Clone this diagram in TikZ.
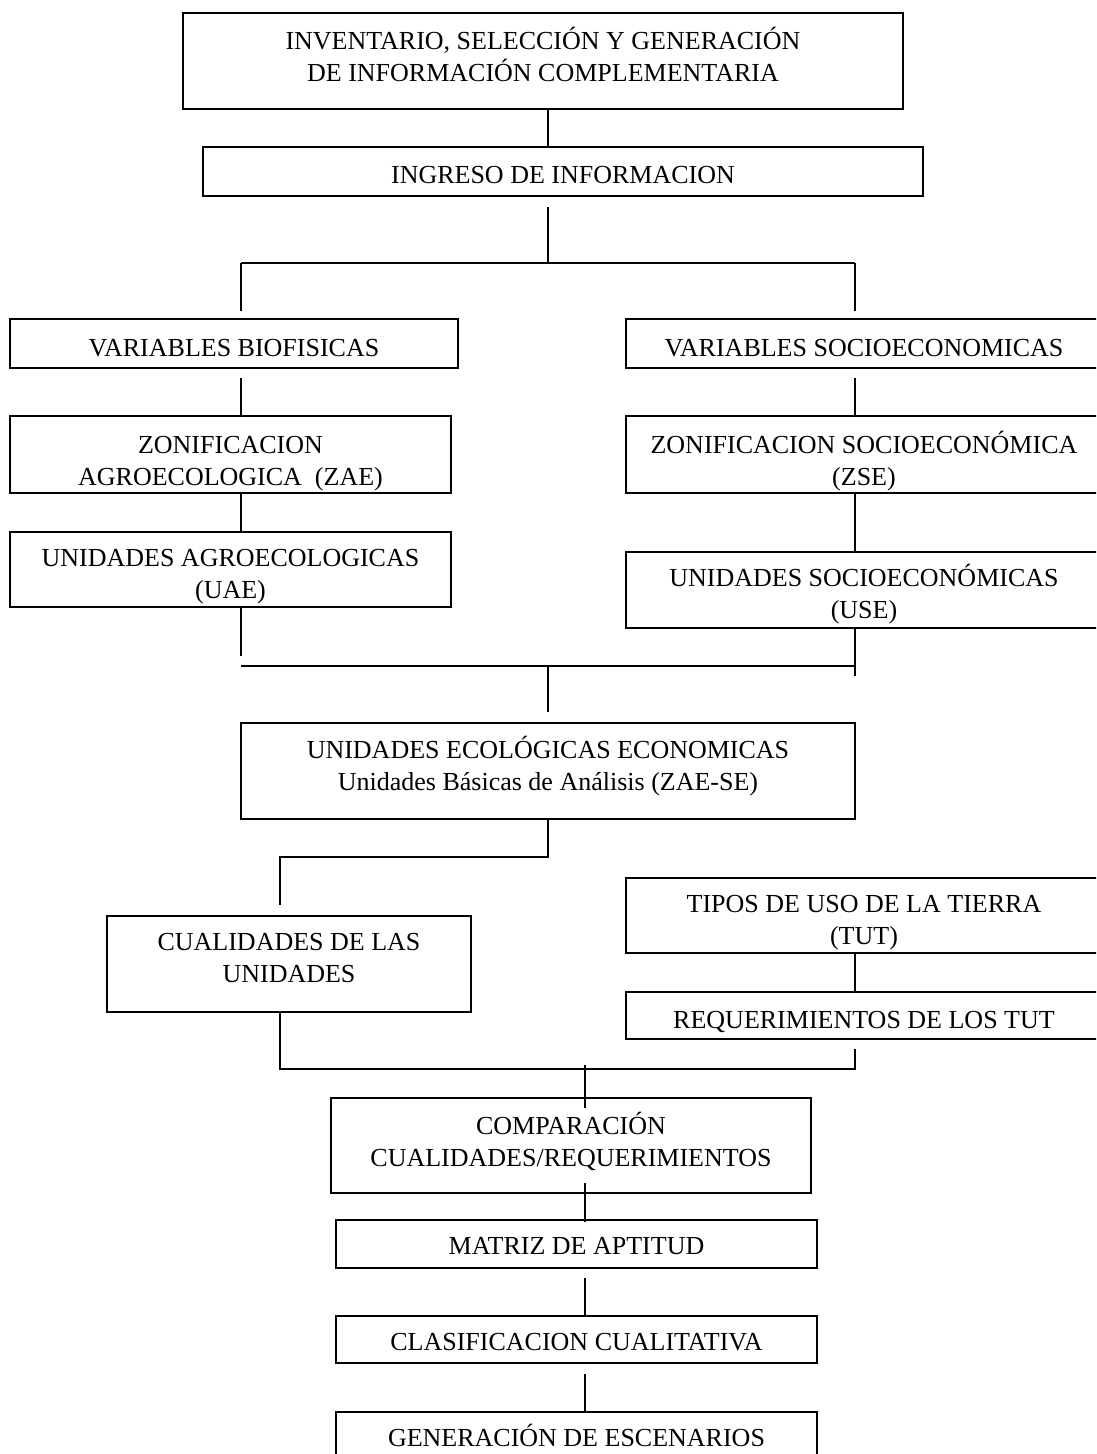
\documentclass[tikz,border=0pt]{standalone}
\usepackage{fontspec}
\setmainfont{Liberation Serif}
\usetikzlibrary{calc}

% struts that set where the text sits in its box
\newcommand{\strtop}[1]{\rule{0pt}{#1pt}}
\newcommand{\strbot}[1]{\rule[-#1pt]{0pt}{0pt}}

\begin{document}
\begin{tikzpicture}[
    x=1pt, y=-1pt,
    font=\fontsize{26}{32}\selectfont,
    box/.style={rectangle, draw=black, line width=1.6pt, align=center, inner sep=0pt},
    leftbox/.style={box, minimum width=441pt},
    rightbox/.style={box, minimum width=476pt},
    lowbox/.style={box, minimum width=481pt},
    wire/.style={draw=black, line width=1.4pt}
]
    \clip (0,0) rectangle (1096,1454);

    % =========================================================================
    % COLUMNS OF THE CONNECTORS
    % =========================================================================
    \coordinate (spine) at (548,0);
    \coordinate (left) at (241,0);
    \coordinate (right) at (855,0);
    \coordinate (cualx) at (280,0);
    \coordinate (lower) at (585,0);

    \coordinate (split) at (548,263);
    \coordinate (join) at (548,666);
    \coordinate (fork) at (548,857);
    \coordinate (merge) at (585,1069);

    % =========================================================================
    % TOP: INFORMATION
    % =========================================================================
    \node[box, minimum width=720pt, minimum height=96pt] (inv) at (543,61) {\strtop{24}INVENTARIO, SELECCIÓN Y GENERACIÓN\\DE INFORMACIÓN COMPLEMENTARIA\strbot{16}};
    \node[box, minimum width=720pt, minimum height=49pt] (ing) at (563,171.5) {\strtop{29}INGRESO DE INFORMACION\strbot{6}};

    % =========================================================================
    % TWO BRANCHES
    % =========================================================================
    \node[box, minimum width=448pt, minimum height=49pt] (bio) at (234,343.5) {\strtop{32}VARIABLES BIOFISICAS\strbot{6}};
    \node[leftbox, minimum height=77pt] (zae) at (230.5,454.5) {\strtop{36}ZONIFICACION\\AGROECOLOGICA\ \ (ZAE)\strbot{6}};
    \node[leftbox, minimum height=75pt] (uae) at (230.5,569.5) {\strtop{32}UNIDADES AGROECOLOGICAS\\(UAE)\strbot{6}};

    \node[rightbox, minimum height=49pt] (soc) at (864,343.5) {\strtop{32}VARIABLES SOCIOECONOMICAS\strbot{6}};
    \node[rightbox, minimum height=77pt] (zse) at (864,454.5) {\strtop{36}ZONIFICACION SOCIOECONÓMICA\\(ZSE)\strbot{6}};
    \node[rightbox, minimum height=76pt] (use) at (864,590) {\strtop{31}UNIDADES SOCIOECONÓMICAS\\(USE)\strbot{6}};

    % =========================================================================
    % UNITS AND LAND USE
    % =========================================================================
    \node[box, minimum width=614pt, minimum height=96pt] (uee) at (548,771) {\strtop{24}UNIDADES ECOLÓGICAS ECONOMICAS\\Unidades Básicas de Análisis (ZAE-SE)\strbot{17}};
    \node[box, minimum width=364pt, minimum height=96pt] (cual) at (289,964) {\strtop{24}CUALIDADES DE LAS\\UNIDADES\strbot{20}};
    \node[rightbox, minimum height=75pt] (tut) at (864,915.5) {\strtop{31}TIPOS DE USO DE LA TIERRA\\(TUT)\strbot{6}};
    \node[rightbox, minimum height=47pt] (req) at (864,1015.5) {\strtop{32}REQUERIMIENTOS DE LOS TUT\strbot{6}};

    % =========================================================================
    % BOTTOM: EVALUATION
    % =========================================================================
    \node[box, minimum width=480pt, minimum height=95pt] (comp) at (571,1145.5) {\strtop{24}COMPARACIÓN\\CUALIDADES/REQUERIMIENTOS\strbot{15}};
    \node[lowbox, minimum height=48pt] (mat) at (576.5,1244) {\strtop{27}MATRIZ DE APTITUD\strbot{6}};
    \node[lowbox, minimum height=47pt] (clas) at (576.5,1339.5) {\strtop{27}CLASIFICACION CUALITATIVA\strbot{6}};
    \node[lowbox, minimum height=48pt] (gen) at (576.5,1436) {\strtop{27}GENERACIÓN DE ESCENARIOS\strbot{6}};

    % =========================================================================
    % CONNECTORS
    % =========================================================================
    \draw[wire] (inv.south -| spine) -- (ing.north -| spine);
    \draw[wire] ($(ing.south -| spine)+(0,10)$) -- (split);
    \draw[wire] (split -| left) -- (split -| right);
    \foreach \s/\n in {left/bio, right/soc} {
        \draw[wire] (split -| \s) -- ($(\n.north -| \s)+(0,-7)$);
    }
    \draw[wire] ($(bio.south -| left)+(0,9)$) -- (zae.north -| left);
    \draw[wire] ($(soc.south -| right)+(0,9)$) -- (zse.north -| right);
    \draw[wire] (zae.south -| left) -- (uae.north -| left);
    \draw[wire] (zse.south -| right) -- (use.north -| right);

    \draw[wire] (uae.south -| left) -- ($(join -| left)+(0,-10)$);
    \draw[wire] (use.south -| right) -- ($(join -| right)+(0,10)$);
    \draw[wire] (join -| left) -- (join -| right);
    \draw[wire] (join) -- ($(uee.north -| spine)+(0,-10)$);

    \draw[wire] (uee.south -| spine) -- (fork) -- (fork -| cualx) -- ($(cual.north -| cualx)+(0,-10)$);
    \draw[wire] (tut.south -| right) -- (req.north -| right);
    \draw[wire] (cual.south -| cualx) -- (merge -| cualx) -- (merge -| right) -- ($(req.south -| right)+(0,9)$);

    \draw[wire] ($(merge)+(0,-4)$) -- ($(comp.north -| lower)+(0,11)$);
    \draw[wire] ($(comp.south -| lower)+(0,-11)$) -- ($(mat.north -| lower)+(0,3)$);
    \draw[wire] ($(mat.south -| lower)+(0,9)$) -- (clas.north -| lower);
    \draw[wire] ($(clas.south -| lower)+(0,10)$) -- (gen.north -| lower);

\end{tikzpicture}
\end{document}
